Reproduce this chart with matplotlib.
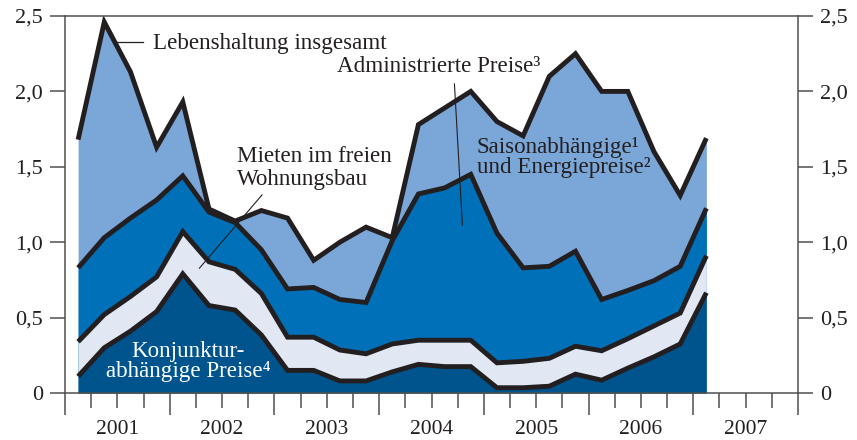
import numpy as np
import matplotlib
matplotlib.use("Agg")
import matplotlib.pyplot as plt
from matplotlib.ticker import FuncFormatter

plt.rcParams['font.family'] = ['Liberation Serif', 'DejaVu Serif']

# Quartalswerte 2001 Q1 bis 2007 Q1 (kumulierte Beitraege, Prozentpunkte)
jahre = list(range(2001, 2008))
quartale = np.arange(2001, 2007.01, 0.25) + 0.125

konjunktur = [0.11, 0.30, 0.41, 0.54, 0.79, 0.58, 0.55, 0.385, 0.15, 0.15, 0.08, 0.08, 0.14,
              0.19, 0.175, 0.175, 0.035, 0.035, 0.045, 0.125, 0.085, 0.165, 0.24, 0.325, 0.665]
mieten = [0.34, 0.52, 0.64, 0.77, 1.07, 0.87, 0.82, 0.66, 0.37, 0.37, 0.285, 0.26, 0.325,
          0.35, 0.35, 0.35, 0.20, 0.21, 0.23, 0.31, 0.28, 0.36, 0.445, 0.53, 0.91]
administriert = [0.83, 1.03, 1.16, 1.28, 1.44, 1.20, 1.13, 0.95, 0.69, 0.70, 0.62, 0.60, 1.01,
                 1.32, 1.36, 1.45, 1.06, 0.83, 0.84, 0.94, 0.62, 0.68, 0.745, 0.84, 1.225]
insgesamt = [1.68, 2.46, 2.13, 1.63, 1.93, 1.22, 1.14, 1.21, 1.16, 0.88, 1.00, 1.10, 1.03,
             1.78, 1.89, 2.00, 1.80, 1.705, 2.10, 2.25, 2.00, 2.00, 1.60, 1.31, 1.69]

y_ticks = [0, 0.5, 1.0, 1.5, 2.0, 2.5]

textfarbe = '#231f20'
achsenfarbe = '#505050'

fig = plt.figure(figsize=(8.57, 4.4), dpi=100)
ax = fig.add_axes([65 / 857, 47 / 440, 733 / 857, 377 / 440])

# Flaechen von oben nach unten uebermalen
ax.fill_between(quartale, 0, insgesamt, color='#7ba7d8', lw=0)
ax.fill_between(quartale, 0, administriert, color='#0070b9', lw=0)
ax.fill_between(quartale, 0, mieten, color='#e1e8f4', lw=0)
ax.fill_between(quartale, 0, konjunktur, color='#00548e', lw=0)

for serie in (konjunktur, mieten, administriert, insgesamt):
    ax.plot(quartale, serie, color=textfarbe, lw=3.5,
            solid_capstyle='butt', solid_joinstyle='miter')

ax.set_xlim(2001, 2008)
ax.set_ylim(0, 2.5)

for s in ax.spines.values():
    s.set_color(achsenfarbe)
    s.set_linewidth(1.1)

ax.set_xticks(range(2001, 2009))
ax.set_xticks(np.arange(2001, 2008.01, 0.25), minor=True)
ax.tick_params(axis='x', which='major', length=16, width=1.1, color=achsenfarbe,
               labelbottom=False)
ax.tick_params(axis='x', which='minor', length=11, width=1.1, color=achsenfarbe)

ax.set_yticks(y_ticks)
ax.yaxis.set_major_formatter(FuncFormatter(
    lambda v, p: '0' if v == 0 else f'{v:.1f}'.replace('.', ',')))
ax.tick_params(axis='y', length=11, width=1.1, color=achsenfarbe, left=True, right=True,
               labelleft=True, labelright=True, labelsize=16, labelcolor=textfarbe, pad=5)

for jahr in jahre:
    ax.annotate(str(jahr), xy=(jahr + 0.5, 0), xycoords=('data', 'axes fraction'),
                xytext=(0, -27), textcoords='offset pixels', ha='center', va='top',
                fontsize=15.5, color=textfarbe)

# Beschriftungen mit Hinweislinien
fs = 16.6
ax.text(2001.841, 2.28, 'Lebenshaltung insgesamt', fontsize=fs, color=textfarbe)
ax.plot([2001.478, 2001.746], [2.33, 2.33], color=textfarbe, lw=0.9)

ax.text(2003.60, 2.13, 'Administrierte Preise\u00b3', fontsize=fs, color=textfarbe)
ax.plot([2004.719, 2004.795], [2.05, 1.115], color=textfarbe, lw=0.8)

ax.text(2004.93, 1.59, 'Saisonabh\u00e4ngige\u00b9', fontsize=fs, color=textfarbe)
ax.text(2004.93, 1.46, 'und Energiepreise\u00b2', fontsize=fs, color=textfarbe)

ax.text(2002.644, 1.535, 'Mieten im freien', fontsize=fs, color=textfarbe)
ax.text(2002.644, 1.38, 'Wohnungsbau', fontsize=fs, color=textfarbe)
ax.plot([2002.882, 2002.284], [1.314, 0.828], color=textfarbe, lw=0.8)

ax.text(2002.176, 0.241, 'Konjunktur-', fontsize=fs, color='white', ha='center')
ax.text(2002.176, 0.108, 'abh\u00e4ngige Preise\u2074', fontsize=fs, color='white', ha='center')

fig.savefig('out.png', dpi=100)
